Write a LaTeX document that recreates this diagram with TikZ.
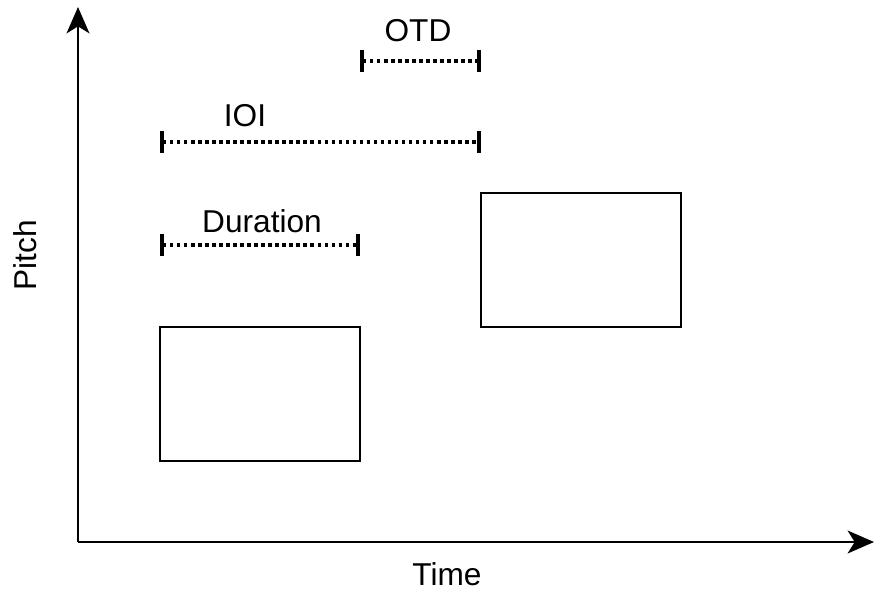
\documentclass[tikz,border=0pt]{standalone}
\usepackage{fontspec}
\setmainfont{Liberation Sans}
\usepackage{tikz}
\usetikzlibrary{arrows.meta,positioning}

\begin{document}
\begin{tikzpicture}[
		x=0.02cm, y=-0.02cm,
		note/.style={rectangle, draw, line width=1.1pt, minimum width=4cm, minimum height=2.68cm, inner sep=0pt},
		axis/.style={line width=1.4pt, -{Stealth[length=15pt, width=13pt, inset=4pt]}},
		span/.style={line width=2pt, dash pattern=on 2pt off 2pt,
			{Bar[width=12.5pt, line width=2.2pt]}-{Bar[width=12.5pt, line width=2.2pt]}},
		lbl/.style={font=\fontsize{18}{21}\selectfont, inner sep=0pt}
		]
	
		\useasboundingbox (0,0) rectangle (875,595);
	
		% Axes
		\coordinate (O) at (78, 542);
		\coordinate (Ytop) at (78, 7);
		\coordinate (Xend) at (874, 542);
		\draw[axis] (O) -- (Ytop);
		\draw[axis] (O) -- (Xend);
		\node[lbl] (time) at (447, 574) {Time};
		\node[lbl, rotate=90] (pitch) at (25, 255) {Pitch};
	
		% Notes
		\node[note] (N1) at (260, 394) {};
		\node[note] (N2) at (581, 260) {};
	
		% Intervals
		\coordinate (D1) at (160, 245);
		\coordinate (D2) at (360, 245);
		\coordinate (I1) at (160, 142);
		\coordinate (I2) at (481, 142);
		\coordinate (T1) at (360, 61);
		\coordinate (T2) at (481, 61);
	
		\draw[span] (D1) -- (D2);
		\draw[span] (I1) -- (I2);
		\draw[span] (T1) -- (T2);
	
		\node[lbl] (dur) at (262, 221) {Duration};
		\node[lbl] (ioi) at (245, 116) {IOI};
		\node[lbl] (otd) at (418, 31) {OTD};
	\end{tikzpicture}
\end{document}
